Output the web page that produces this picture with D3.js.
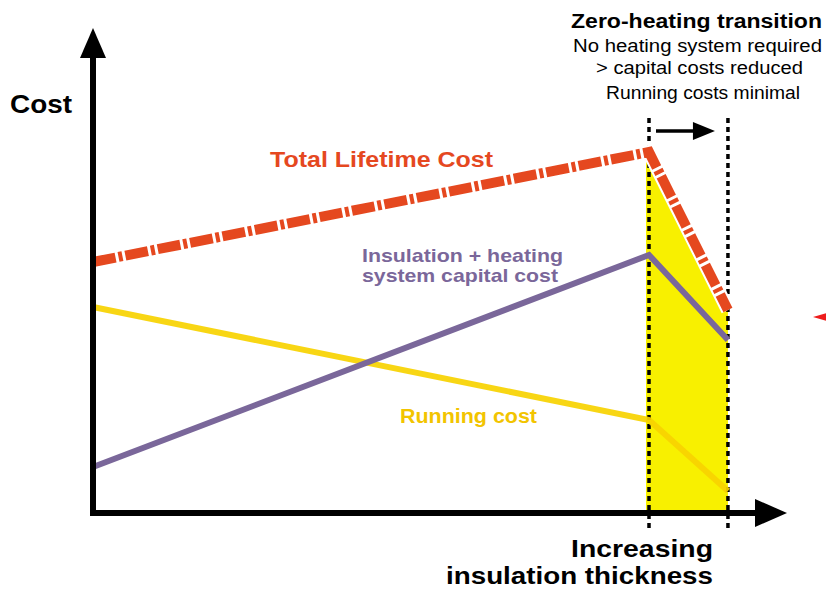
<!DOCTYPE html>
<html><head><meta charset="utf-8">
<script src="https://cdn.jsdelivr.net/npm/d3@7"></script>
<style>body{margin:0;background:#fff}svg{display:block}text{font-family:"Liberation Sans",Arial,sans-serif}</style>
</head><body><svg id="c" width="826" height="589"></svg>
<script>
// relative insulation thickness at start, transition and zero-heating point
const stages = [0, 100, 114.2];
const stageLabels = ["Minimal insulation", "Zero-heating transition", "Zero heating"];
const totalCost = [62.75, 90.25, 50.75];
const capitalCost = [11.5, 64.5, 43.25];
const runningCost = [51.5, 23.25, 5.5];

const svg = d3.select("#c");
const x = d3.scaleLinear().domain([0, 100]).range([93, 649]);
const y = d3.scaleLinear().domain([0, 100]).range([513, 113]);

const pts = v => stages.map((s, i) => [s, v[i]]);
const line = d3.line().x(d => x(d[0])).y(d => y(d[1]));

// yellow zero-heating region under total cost
svg.append("clipPath").attr("id", "zc").append("rect")
  .attr("x", x(stages[1]) - 3).attr("y", 0)
  .attr("width", x(stages[2]) - x(stages[1]) + 5).attr("height", y(0));
svg.append("path")
  .attr("clip-path", "url(#zc)")
  .attr("d", d3.area().x(d => x(d[0])).y0(y(0)).y1(d => y(d[1]))(pts(totalCost)))
  .attr("fill", "#f8f000");

// dotted verticals
[stages[1], stages[2]].forEach(s => {
  svg.append("line").attr("x1", x(s)).attr("x2", x(s))
    .attr("y1", 118).attr("y2", 530)
    .attr("stroke", "#000").attr("stroke-width", 3.5).attr("stroke-dasharray", "5,4");
});

// transition arrow
const ay = 131;
svg.append("line").attr("x1", x(stages[1]) + 7).attr("x2", x(stages[2]) - 30)
  .attr("y1", ay).attr("y2", ay).attr("stroke", "#000").attr("stroke-width", 3.5);
svg.append("path").attr("d", `M${x(stages[2]) - 35},${ay - 9}L${x(stages[2]) - 13},${ay}L${x(stages[2]) - 35},${ay + 9}Z`).attr("fill", "#000");

// series lines
svg.append("path").attr("d", line(pts(runningCost))).attr("fill", "none")
  .attr("stroke", "#f7d200").attr("stroke-width", 6).attr("opacity", 0.92);
svg.append("path").attr("d", line(pts(capitalCost))).attr("fill", "none")
  .attr("stroke", "#7a679a").attr("stroke-width", 6);
svg.append("path").attr("d", line(pts(totalCost))).attr("fill", "none")
  .attr("stroke", "#fff").attr("stroke-width", 14);
svg.append("path").attr("d", line(pts(totalCost))).attr("fill", "none")
  .attr("stroke", "#e5481f").attr("stroke-width", 10)
  .attr("stroke-dasharray", "23,3,4,3");

// axes
const ax0 = x(0), ay0 = y(0);
svg.append("line").attr("x1", ax0).attr("x2", ax0).attr("y1", ay0 + 3).attr("y2", 55)
  .attr("stroke", "#000").attr("stroke-width", 6);
svg.append("path").attr("d", `M${ax0 - 13},58L${ax0},28L${ax0 + 13},58Z`).attr("fill", "#000");
svg.append("line").attr("x1", ax0 - 3).attr("x2", 760).attr("y1", ay0).attr("y2", ay0)
  .attr("stroke", "#000").attr("stroke-width", 6);
svg.append("path").attr("d", `M755,${ay0 - 14}L787,${ay0}L755,${ay0 + 14}Z`).attr("fill", "#000");

// small red marker at right edge
svg.append("path").attr("d", "M813,317L830,312L830,322Z").attr("fill", "#ee1c1c");

// texts: [x, baseline, text, size, weight, colour, width]
const T = (tx, ty, s, size, weight, fill, w) => svg.append("text")
  .attr("x", tx).attr("y", ty).text(s).attr("font-size", size)
  .attr("font-weight", weight).attr("fill", fill)
  .attr("textLength", w).attr("lengthAdjust", "spacingAndGlyphs");
T(10, 113, "Cost", 25, "bold", "#000", 62);
T(270, 167, "Total Lifetime Cost", 22, "bold", "#e5481f", 223);
T(362, 262, "Insulation + heating", 18.5, "bold", "#7a679a", 201);
T(362, 282, "system capital cost", 18.5, "bold", "#7a679a", 196);
T(400, 423, "Running cost", 19.5, "bold", "#f2c400", 137);
T(571, 28, "Zero-heating transition", 19.5, "bold", "#000", 251);
T(573, 52, "No heating system required", 17.5, "normal", "#000", 249);
T(596, 74, "> capital costs reduced", 17.5, "normal", "#000", 207);
T(606, 99, "Running costs minimal", 17.5, "normal", "#000", 194);
T(571, 557, "Increasing", 24, "bold", "#000", 142);
T(446, 584, "insulation thickness", 24, "bold", "#000", 267);
</script></body></html>
